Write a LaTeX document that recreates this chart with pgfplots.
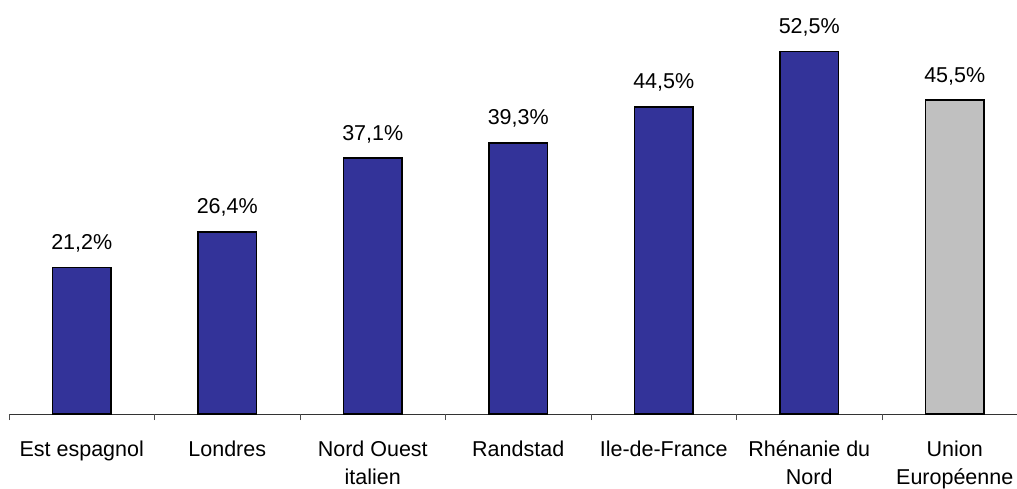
\documentclass[border=0pt]{standalone}
\usepackage{pgfplots}
\pgfplotsset{compat=1.18}
\usepackage{fontspec}
\setmainfont{Liberation Sans}
\definecolor{barblue}{HTML}{333399}
\definecolor{bargray}{HTML}{C0C0C0}
\begin{document}
\begin{tikzpicture}
\begin{axis}[
  scale only axis,
  width=1008pt, height=414pt,
  xmin=-0.5, xmax=6.428,
  ymin=0, ymax=60,
  axis x line=bottom,
  hide y axis,
  ytick=\empty,
  axis line style={black!80, line width=0.8pt, -},
  ybar,
  bar width=0.4,
  xtick={0,1,2,3,4,5,6},
  xticklabels={Est espagnol, Londres, Nord Ouest\\italien, Randstad, Ile-de-France, Rhénanie du\\Nord, Union\\Européenne},
  major tick length=0pt,
  extra x ticks={-0.5,0.5,1.5,2.5,3.5,4.5,5.5},
  extra x tick labels={},
  extra x tick style={major tick length=6pt, tick align=outside, tick style={black!70, line width=0.8pt}},
  xticklabel style={font=\fontsize{21.5}{28.5}\selectfont, align=center, anchor=north, yshift=-23pt},
  nodes near coords={\pgfmathprintnumber[fixed, fixed zerofill, precision=1, use comma, assume math mode=true]{\pgfplotspointmeta}\%},
  nodes near coords style={font=\fontsize{21.5}{26}\selectfont, anchor=base, yshift=18pt},
  clip=false,
]
\addplot[fill=barblue, draw=black, line width=1.5pt, bar shift=0pt] coordinates {(0,21.2) (1,26.4) (2,37.1) (3,39.3) (4,44.5) (5,52.5)};
\addplot[fill=bargray, draw=black, line width=1.5pt, bar shift=0pt] coordinates {(6,45.5)};
\end{axis}
\pgfresetboundingbox
\path ([xshift=-9pt]current axis.north west) rectangle ([yshift=-74pt]current axis.south east);
\end{tikzpicture}
\end{document}
